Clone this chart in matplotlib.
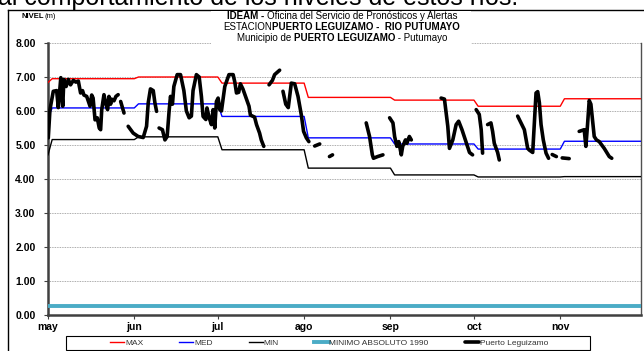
import numpy as np
import matplotlib
matplotlib.use("Agg")
import matplotlib.pyplot as plt
from matplotlib.lines import Line2D
from matplotlib.patches import Rectangle
from matplotlib.offsetbox import TextArea, HPacker, VPacker, AnnotationBbox

plt.rcParams['font.family'] = ['Liberation Sans', 'DejaVu Sans']

# ==============================
# DATA (days counted from 1 May)
# ==============================
MONTH_LABELS = ['may', 'jun', 'jul', 'ago', 'sep', 'oct', 'nov']
MONTH_START = [0, 31, 61, 92, 123, 153, 184]
X_END = 213

# monthly reference levels (m) + value at day 0
MAX_FIRST = 6.84
MAX_MONTH = [6.95, 7.00, 6.82, 6.40, 6.32, 6.14, 6.36]
MED_FIRST = 5.79
MED_MONTH = [6.09, 6.21, 5.84, 5.21, 5.03, 4.88, 5.11]
MIN_FIRST = 4.71
MIN_MONTH = [5.16, 5.24, 4.86, 4.32, 4.12, 4.06, 4.07]
MIN_ABS_1990 = 0.27

# observed levels, Puerto Leguizamo (nan = no data)
nan = np.nan
OBS_DAY = [0.1, 0.7, 1.9, 3.1, 3.7, 4.6, 5.3, 5.7, 6.5, 7.3, 8.1, 9.1, 10.0, 10.9,
           11.7, 12.4, 12.9, 13.9, 15.1, 15.7, 16.2, 16.9, 17.7, 18.4, 18.9, 19.3,
           20.1, 20.8, 21.4, 21.9, 22.5, 22.8, 23.7, 24.4, 25.2, nan,
           26.1, 27.3, nan,
           28.8, 30.6, 32.4, 34.2, 35.4, 36.0, 36.8, 37.8, 38.4, 39.0, nan,
           39.9, 41.1, 42.0, 42.8, 43.5, 44.0, 44.7, 45.2, 46.4, 47.6, 48.8, 49.7,
           50.7, 51.5, 52.1, 53.3, 54.3, 55.1, 55.7, 56.7, 57.1, 57.9, 58.7, 59.3,
           59.9, 60.5, 61.1, 61.7, 62.3, 63.5, 65.0, 66.5, 67.1, 67.7, 68.5, 69.1,
           70.0, 71.3, 72.2, 72.7, 74.2, 74.9, 76.0, 76.6, 77.5, nan,
           79.4, 80.6, 81.4, 83.2, nan,
           84.4, 85.4, 86.3, 87.4, 88.6, 89.8, 91.0, 91.8, 92.8, 93.7, nan,
           95.8, 97.6, nan,
           101.1, 102.2, nan,
           114.3, 115.5, 116.5, 116.9, 118.4, 120.3, nan,
           122.7, 123.9, 124.5, 125.3, 126.0, 126.9, 127.4, 128.4, 128.9, 129.8, 130.5, nan,
           141.2, 142.4, 143.6, 144.2, 145.4, 146.6, 147.5, 148.7, 149.9, 151.4, 152.5, nan,
           153.8, 154.9, 155.6, 156.1, nan,
           157.9, 159.1, 159.7, 160.3, 161.5, 162.1, nan,
           168.7, 169.9, 171.1, 172.3, 172.9, 174.1, 175.3, 175.9, 176.5, 177.1,
           177.9, 178.9, 179.8, nan,
           181.1, 182.6, nan,
           184.7, 187.2, nan,
           190.8, 192.6, 193.2, 193.8, 194.4, 195.0, 195.6, 196.2, 197.0, 198.0,
           198.9, 199.8, 201.6, 202.5]
OBS_LEVEL = [5.21, 6.04, 6.58, 6.60, 6.10, 6.98, 6.14, 6.93, 6.72, 6.93, 6.77, 6.90, 6.85, 6.88,
             6.53, 6.60, 6.47, 6.43, 6.14, 6.47, 6.38, 5.74, 5.80, 5.50, 5.45, 6.04,
             6.48, 6.20, 6.04, 6.43, 6.20, 6.35, 6.30, 6.43, 6.48, nan,
             6.28, 5.94, nan,
             5.55, 5.35, 5.25, 5.22, 5.55, 6.24, 6.65, 6.60, 6.24, 5.99, nan,
             5.50, 5.45, 5.15, 5.25, 6.00, 6.43, 6.20, 6.72, 7.07, 7.07, 6.60, 6.00,
             5.80, 5.85, 6.60, 7.07, 7.00, 6.43, 5.84, 5.75, 6.09, 5.80, 5.60, 6.04,
             5.50, 6.28, 6.38, 6.04, 6.00, 6.72, 7.07, 7.07, 6.85, 6.53, 6.55, 6.80,
             6.65, 6.35, 6.14, 5.88, 5.82, 5.60, 5.35, 5.15, 4.96, nan,
             6.77, 6.90, 7.07, 7.20, nan,
             6.58, 6.20, 6.10, 6.82, 6.80, 6.43, 5.88, 5.40, 5.21, 5.10, nan,
             4.97, 5.03, nan,
             4.66, 4.71, nan,
             5.65, 5.25, 4.71, 4.61, 4.66, 4.71, nan,
             5.80, 5.65, 5.25, 4.96, 5.10, 4.71, 4.96, 5.15, 5.05, 5.25, 5.15, nan,
             6.38, 6.35, 5.55, 4.90, 5.15, 5.60, 5.70, 5.45, 5.15, 4.78, 4.71, nan,
             6.04, 5.90, 5.45, 4.76, nan,
             5.60, 5.65, 5.40, 5.05, 4.78, 4.56, nan,
             5.85, 5.65, 5.45, 4.90, 4.85, 4.78, 6.53, 6.57, 6.24, 5.60,
             5.15, 4.76, 4.61, nan,
             4.72, 4.66, nan,
             4.62, 4.60, nan,
             5.40, 5.45, 4.96, 5.60, 6.31, 6.20, 5.74, 5.25, 5.15, 5.10,
             5.00, 4.90, 4.66, 4.61]

Y_TICKS = [0, 1, 2, 3, 4, 5, 6, 7, 8]

TITLE_LINES = [
    [('IDEAM - ', True), ('Oficina del Servicio de Pronósticos y Alertas', False)],
    [('ESTACION', False), ('PUERTO LEGUIZAMO -  RIO PUTUMAYO', True)],
    [('Municipio de ', False), ('PUERTO LEGUIZAMO', True), (' - Putumayo', False)],
]


def monthly_steps(first, values):
    # flat level per month with a short ramp at each month change
    xs, ys = [0], [first]
    prev = first
    for start, v in zip(MONTH_START, values):
        xs += [start, start + 1.5]
        ys += [prev, v]
        prev = v
    xs.append(X_END)
    ys.append(prev)
    return xs, ys


W, H = 644, 351
fx = lambda x: x / W
fy = lambda y: 1 - y / H

fig = plt.figure(figsize=(W / 100, H / 100), dpi=100)
ax = fig.add_axes([fx(48), fy(315), 593 / W, 272 / H])

for first, vals, col in [(MAX_FIRST, MAX_MONTH, '#FF0000'),
                         (MED_FIRST, MED_MONTH, '#0000FF'),
                         (MIN_FIRST, MIN_MONTH, '#000000')]:
    xs, ys = monthly_steps(first, vals)
    ax.plot(xs, ys, color=col, lw=1.0, zorder=3)

ax.plot([0, X_END], [MIN_ABS_1990, MIN_ABS_1990], color='#4BACC6', lw=2.8, zorder=3)
ax.plot(OBS_DAY, OBS_LEVEL, color='black', lw=2.6, zorder=4,
        solid_joinstyle='round', solid_capstyle='round')

ax.set_xlim(0, X_END)
ax.set_ylim(0, 8)
ax.set_xticks(MONTH_START)
ax.set_xticklabels(MONTH_LABELS, fontsize=7.5, fontweight='bold')
ax.set_yticks(Y_TICKS)
ax.set_yticklabels(['%.2f' % v for v in Y_TICKS], fontsize=7.5, fontweight='bold')
ax.tick_params(axis='both', length=3, width=0.8, color='#404040', pad=2)
ax.tick_params(axis='y', pad=6)
ax.yaxis.grid(True, linestyle=(0, (1, 1)), color='#909090', lw=0.6)
ax.set_axisbelow(True)
ax.spines['top'].set_visible(False)
ax.spines['left'].set_color('#404040')
ax.spines['left'].set_linewidth(1.8)
ax.spines['bottom'].set_color('#404040')
ax.spines['bottom'].set_linewidth(1.8)
ax.spines['right'].set_color('#505050')
ax.spines['right'].set_linewidth(1.0)

# legend
handles = ax.get_lines()
labels = ['MAX', 'MED', 'MIN', 'MINIMO ABSOLUTO 1990', 'Puerto Leguizamo']
leg = ax.legend(handles, labels, loc='center', bbox_to_anchor=(fx(329), fy(343)),
                bbox_transform=fig.transFigure, ncol=5, frameon=False, fontsize=6,
                handlelength=1.7, handletextpad=0.1, columnspacing=4.3)
for t in leg.get_texts():
    t.set_color('#333333')
fig.add_artist(Rectangle((fx(66), fy(350)), 524 / W, 14 / H, transform=fig.transFigure,
                         facecolor='none', edgecolor='black', lw=0.8))

# page frame and text cut from the document above
fig.add_artist(Line2D([fx(8), fx(8)], [fy(10), 0], transform=fig.transFigure, color='black', lw=1))
fig.add_artist(Line2D([fx(8), 1], [fy(10), fy(10)], transform=fig.transFigure, color='black', lw=1))
fig.text(fx(-2), fy(5), 'al comportamiento de los niveles de estos ríos.', fontsize=18,
         va='baseline', ha='left')

# title block
fig.add_artist(Rectangle((fx(211), fy(46)), 260 / W, 35 / H, transform=fig.transFigure,
                         facecolor='white', edgecolor='none', zorder=2))
rows = []
for parts in TITLE_LINES:
    boxes = [TextArea(t, textprops=dict(fontsize=7.0, fontweight='bold' if b else 'normal'))
             for t, b in parts]
    rows.append(HPacker(children=boxes, align='baseline', pad=0, sep=0))
block = VPacker(children=rows, align='center', pad=0, sep=1)
fig.add_artist(AnnotationBbox(block, (fx(342), fy(27)), xycoords='figure fraction',
                              frameon=False, box_alignment=(0.5, 0.5), zorder=3))

fig.text(fx(22), fy(17), 'NIVEL', fontsize=5.5, fontweight='bold', va='center')
fig.text(fx(45), fy(17), '(m)', fontsize=5.5, va='center')

fig.savefig('out.png', dpi=100)
